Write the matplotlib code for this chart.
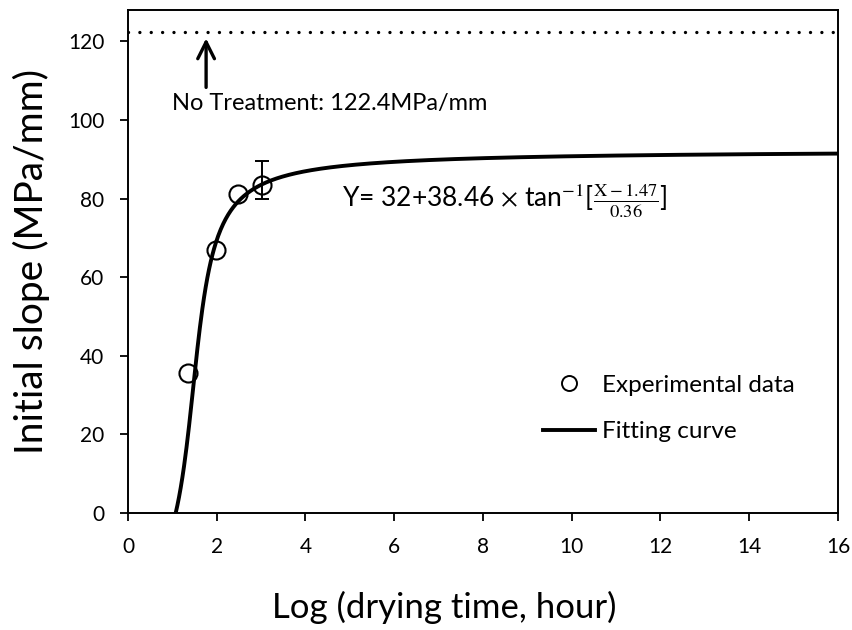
import numpy as np
import matplotlib
matplotlib.use("Agg")
import matplotlib.pyplot as plt
from matplotlib.lines import Line2D

plt.rcParams['font.family'] = ['Lato', 'DejaVu Sans']
plt.rcParams['mathtext.fontset'] = 'stix'

# Experimental measurements
exp_x = [1.36, 1.98, 2.49, 3.01]
exp_y = [35.5, 67.0, 81.1, 83.4]
err_low = [0, 0, 0, 3.5]
err_high = [0, 0, 0, 6.2]

# Fitted arctan model parameters
fit_a = 32.0
fit_b = 38.46
fit_c = 1.47
fit_d = 0.36

untreated = 122.4

x_ticks = [0, 2, 4, 6, 8, 10, 12, 14, 16]
y_ticks = [0, 20, 40, 60, 80, 100, 120]

W, H = 853, 630
fig = plt.figure(figsize=(W / 100, H / 100), dpi=100)
ax = fig.add_axes([128 / W, 1 - 513 / H, 710 / W, 503 / H])

xs = np.linspace(1.0, 16, 800)
ys = fit_a + fit_b * np.arctan((xs - fit_c) / fit_d)
ax.plot(xs, ys, color='black', lw=2.8, solid_capstyle='butt', zorder=3)

# error bar on the last point only
ax.errorbar(exp_x[3:], exp_y[3:], yerr=[err_low[3:], err_high[3:]], fmt='none',
            ecolor='black', elinewidth=1.4, capsize=5, capthick=1.4, zorder=4)
ax.plot(exp_x, exp_y, 'o', ms=13, mfc='none', mec='black', mew=1.5, zorder=5)

# untreated reference level
ax.axhline(untreated, color='black', lw=2.4, linestyle=(0, (0.01, 3.4)),
           dash_capstyle='round', zorder=2)
ax.annotate('', xy=(1.76, untreated - 0.9), xytext=(1.76, 107.6),
            arrowprops=dict(arrowstyle='->', lw=2.4, color='black',
                            mutation_scale=30))
ax.text(0.985, 102.6, 'No Treatment: 122.4MPa/mm', fontsize=17,
        va='baseline', ha='left')

ax.text(4.82, 77.9,
        r'Y= 32+38.46 $\times$ tan$^{-1}$[$\frac{\mathrm{X}-1.47}{0.36}$]',
        fontsize=19, va='baseline', ha='left')

ax.set_xlim(0, 16)
ax.set_ylim(0, 128)
ax.set_xticks(x_ticks)
ax.set_yticks(y_ticks)
ax.tick_params(direction='out', length=6, width=1.3, labelsize=15, pad=11)
for s in ax.spines.values():
    s.set_linewidth(1.4)

fig.text(272 / W, 1 - 618 / H, 'Log (drying time, hour)', fontsize=25,
         ha='left', va='baseline')
fig.text(43 / W, 1 - 261.5 / H, 'Initial slope (MPa/mm)', fontsize=28,
         rotation=90, rotation_mode='anchor', ha='center', va='baseline')

handles = [
    Line2D([], [], marker='o', ms=10.8, mfc='none', mec='black', mew=1.4, ls='none'),
    Line2D([], [], color='black', lw=2.8),
]
ax.legend(handles, ['Experimental data', 'Fitting curve'], loc='center left',
          bbox_to_anchor=(543 / W, 1 - 408.5 / H), bbox_transform=fig.transFigure,
          frameon=False, fontsize=17.5, borderpad=0, borderaxespad=0,
          handlelength=2.14, handletextpad=0.29, labelspacing=1.05)

fig.savefig('out.png', dpi=100)
